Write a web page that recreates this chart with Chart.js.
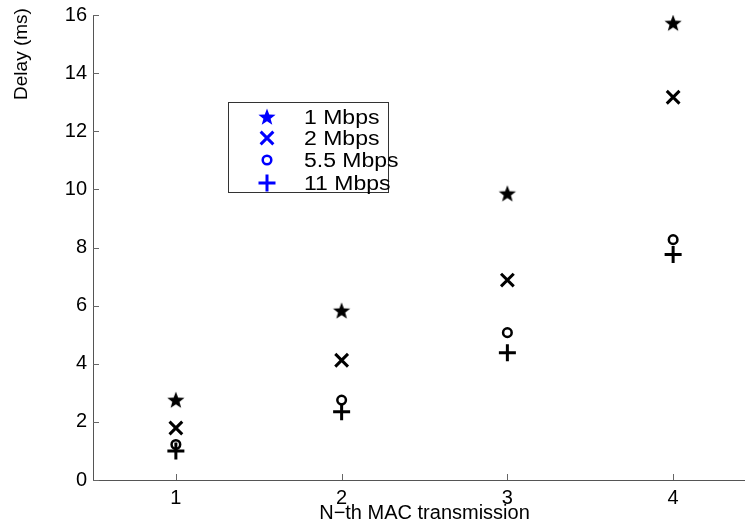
<!DOCTYPE html>
<html>
<head>
<meta charset="utf-8">
<script src="https://cdn.jsdelivr.net/npm/chart.js@4/dist/chart.umd.min.js"></script>
<style>
  html, body { margin: 0; padding: 0; background: #fff; overflow: hidden; }
  #wrap { width: 756px; height: 526px; }
</style>
</head>
<body>
<div id="wrap"><canvas id="delayChart" width="756" height="526"></canvas></div>
<script>
// --- data ---
const transmissions = [1, 2, 3, 4];
const delay1Mbps  = [2.75, 5.82, 9.85, 15.72];
const delay2Mbps  = [1.79, 4.12, 6.88, 13.17];
const delay55Mbps = [1.22, 2.75, 5.07, 8.27];
const delay11Mbps = [1.00, 2.35, 4.38, 7.76];
const seriesNames = ['1 Mbps', '2 Mbps', '5.5 Mbps', '11 Mbps'];
const xTickValues = [1, 2, 3, 4];
const yTickValues = [0, 2, 4, 6, 8, 10, 12, 14, 16];

const FONT = '"Liberation Sans", Arial, Helvetica, sans-serif';

// filled five-pointed star used as a point style
function makeStar(color, r) {
  const c = document.createElement('canvas');
  const s = Math.ceil(r * 2 + 2);
  c.width = s; c.height = s;
  const g = c.getContext('2d');
  g.fillStyle = color;
  g.beginPath();
  for (let i = 0; i < 10; i++) {
    const rad = i % 2 === 0 ? r : r * 0.42;
    const a = -Math.PI / 2 + i * Math.PI / 5;
    g.lineTo(s / 2 + rad * Math.cos(a), s / 2 + rad * Math.sin(a) + 0.5);
  }
  g.closePath();
  g.fill();
  return c;
}
const starBlack = makeStar('#000', 9);
const starBlue = makeStar('#0000ff', 9);

function pts(ys) { return transmissions.map((x, i) => ({ x: x, y: ys[i] })); }

// marker look for each series
const markerDefs = [
  { style: starBlack, legendStyle: starBlue, radius: 9, width: 1, hollow: false },
  { style: 'crossRot', radius: 9, width: 3, hollow: false },
  { style: 'circle', radius: 4.3, width: 2.5, hollow: true },
  { style: 'cross', radius: 8.5, width: 3, hollow: false }
];
const seriesData = [delay1Mbps, delay2Mbps, delay55Mbps, delay11Mbps];

const datasets = seriesData.map((ys, i) => ({
  label: seriesNames[i],
  data: pts(ys),
  pointStyle: markerDefs[i].style,
  pointRadius: markerDefs[i].radius,
  pointHoverRadius: markerDefs[i].radius,
  pointBorderWidth: markerDefs[i].width,
  pointBorderColor: '#000',
  pointBackgroundColor: markerDefs[i].hollow ? 'rgba(0,0,0,0)' : '#000',
  showLine: false
}));

// text drawn a little wider than the font's natural width
function wideText(ctx, text, x, y, sx) {
  ctx.save();
  ctx.translate(x, y);
  ctx.scale(sx, 1);
  ctx.fillText(text, 0, 0);
  ctx.restore();
}

// boxed legend inside the axes, blue markers
const boxLegend = {
  id: 'boxLegend',
  afterDraw(chart) {
    const ctx = chart.ctx;
    const a = chart.chartArea;
    const bx = a.left + 135, by = a.top + 87, bw = 160, bh = 90;
    ctx.save();
    ctx.strokeStyle = '#333';
    ctx.lineWidth = 1;
    ctx.strokeRect(bx + 0.5, by + 0.5, bw, bh);
    const rows = [15, 36, 58, 81];
    ctx.font = '20px ' + FONT;
    ctx.textBaseline = 'middle';
    seriesNames.forEach((name, i) => {
      const d = markerDefs[i];
      const y = by + rows[i];
      ctx.strokeStyle = '#0000ff';
      ctx.fillStyle = d.hollow ? 'rgba(0,0,0,0)' : '#0000ff';
      ctx.lineWidth = d.width;
      Chart.helpers.drawPoint(ctx, {
        pointStyle: d.legendStyle || d.style,
        radius: d.radius,
        borderWidth: d.width
      }, bx + 39, y);
      ctx.fillStyle = '#000';
      wideText(ctx, name, bx + 76, y + 1, 1.15);
    });
    ctx.restore();
  }
};

// inward tick marks and the rotated y title near the top
const axisDecor = {
  id: 'axisDecor',
  afterDraw(chart) {
    const ctx = chart.ctx;
    const a = chart.chartArea;
    const xs = chart.scales.x, ys = chart.scales.y;
    ctx.save();
    ctx.strokeStyle = '#666';
    ctx.lineWidth = 1;
    ctx.beginPath();
    xTickValues.forEach(v => {
      const px = Math.round(xs.getPixelForValue(v)) + 0.5;
      ctx.moveTo(px, a.bottom);
      ctx.lineTo(px, a.bottom - 6);
    });
    yTickValues.forEach(v => {
      const py = Math.round(ys.getPixelForValue(v)) + 0.5;
      ctx.moveTo(a.left, py);
      ctx.lineTo(a.left + 6, py);
    });
    ctx.stroke();

    ctx.fillStyle = '#000';
    ctx.font = '19px ' + FONT;
    ctx.textAlign = 'center';
    ctx.textBaseline = 'middle';
    ctx.translate(22, 54);
    ctx.rotate(-Math.PI / 2);
    ctx.fillText('Delay (ms)', 0, 0);
    ctx.restore();
  }
};

new Chart(document.getElementById('delayChart'), {
  type: 'scatter',
  data: { datasets: datasets },
  options: {
    responsive: false,
    animation: false,
    layout: { autoPadding: false, padding: { top: 15, left: 0, right: 0, bottom: 0 } },
    plugins: { legend: { display: false }, tooltip: { enabled: false } },
    scales: {
      x: {
        type: 'linear',
        min: 0.5, max: 4.5,
        afterBuildTicks(scale) { scale.ticks = xTickValues.map(v => ({ value: v })); },
        afterFit(scale) {
          scale.height = 46;
          scale.paddingLeft = 0; scale.paddingRight = 0;
        },
        grid: { display: false, drawTicks: false },
        border: { display: true, color: '#555', width: 1 },
        ticks: { color: '#000', padding: 6, font: { family: FONT, size: 20 } },
        title: {
          display: true, text: 'N\u2212th MAC transmission', color: '#000',
          font: { family: FONT, size: 20 }, padding: { top: 0, bottom: 1 }
        }
      },
      y: {
        type: 'linear',
        min: 0, max: 16,
        afterBuildTicks(scale) { scale.ticks = yTickValues.map(v => ({ value: v })); },
        afterFit(scale) {
          scale.width = 93;
          scale.paddingTop = 0; scale.paddingBottom = 0;
        },
        grid: { display: false, drawTicks: false },
        border: { display: true, color: '#555', width: 1 },
        ticks: { color: '#000', padding: 6, font: { family: FONT, size: 20 } }
      }
    }
  },
  plugins: [boxLegend, axisDecor]
});
</script>
</body>
</html>
